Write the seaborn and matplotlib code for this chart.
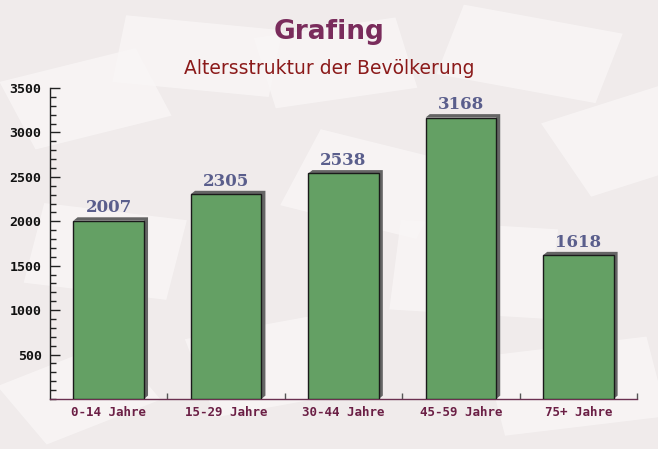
import matplotlib
matplotlib.use("Agg")
import matplotlib.pyplot as plt
import seaborn as sns
import pandas as pd
from matplotlib.patches import Polygon
from matplotlib.ticker import MultipleLocator, FixedLocator
import matplotlib.transforms as mtransforms

categories = ["0-14 Jahre", "15-29 Jahre", "30-44 Jahre", "45-59 Jahre", "75+ Jahre"]
values = [2007, 2305, 2538, 3168, 1618]
title = "Grafing"
subtitle = "Altersstruktur der Bevölkerung"

df = pd.DataFrame({"cat": categories, "val": values})

sns.set_theme(style="white")
bg = "#f0ebeb"
fig = plt.figure(figsize=(6.58, 4.49), dpi=100, facecolor=bg)

# background axes with faint decorative cards (envelope-like texture)
bgax = fig.add_axes([0, 0, 1, 1], zorder=0)
bgax.set_xlim(0, 1)
bgax.set_ylim(0, 1)
bgax.axis("off")
cards = [(0.02, 0.70, 0.22, 0.16, 20), (0.18, 0.80, 0.24, 0.15, -8), (0.40, 0.78, 0.22, 0.16, 12),
         (0.68, 0.80, 0.25, 0.16, -15), (0.85, 0.60, 0.22, 0.18, 25), (0.05, 0.35, 0.22, 0.18, -10),
         (0.30, 0.10, 0.25, 0.18, 15), (0.60, 0.30, 0.24, 0.20, -5), (0.75, 0.05, 0.25, 0.18, 10),
         (0.02, 0.05, 0.20, 0.15, 30), (0.45, 0.50, 0.22, 0.18, -20)]
for (cx, cy, w, h, ang) in cards:
    tr = mtransforms.Affine2D().rotate_deg_around(cx + w / 2, cy + h / 2, ang) + bgax.transData
    bgax.add_patch(plt.Rectangle((cx, cy), w, h, transform=tr, facecolor="#f9f6f6",
                                 edgecolor="none", alpha=0.8))

ax = fig.add_axes([50/658, 1-399/449, 587/658, 311/449], zorder=1)
ax.set_facecolor("none")

sns.barplot(data=df, x="cat", y="val", ax=ax, color="#64a064", width=0.6,
            edgecolor="#1a1a1a", linewidth=1.0, saturation=1, zorder=3)

# shadow (3D effect)
dx, dy = 0.035, 38
for p in ax.patches[:len(values)]:
    x0, w, h = p.get_x(), p.get_width(), p.get_height()
    poly = Polygon([(x0 + w, 0), (x0 + w + dx, dy), (x0 + w + dx, h + dy),
                    (x0 + dx, h + dy), (x0, h), (x0 + w, h)],
                   closed=True, facecolor="#656565", edgecolor="none", zorder=2)
    ax.add_patch(poly)

for i, v in enumerate(values):
    ax.text(i, v + 50, str(v), ha="center", va="bottom", fontsize=12,
            fontweight="bold", family="DejaVu Serif", color="#5a5e8c", zorder=4)

ax.set_xlim(-0.5, len(values) - 0.5)
ax.set_ylim(0, 3500)
ax.set_xlabel("")
ax.set_ylabel("")
ax.yaxis.set_major_locator(FixedLocator([500, 1000, 1500, 2000, 2500, 3000, 3500]))
ax.yaxis.set_minor_locator(MultipleLocator(100))
ax.xaxis.set_minor_locator(FixedLocator([0.5, 1.5, 2.5, 3.5, 4.5]))
ax.tick_params(axis="y", which="major", direction="in", length=7, width=1, color="#222222",
               labelsize=9.5, labelcolor="#111111", pad=6, left=True, right=False)
ax.tick_params(axis="y", which="minor", direction="in", length=4, width=1, color="#222222",
               left=True, right=False)
ax.tick_params(axis="x", which="major", length=0, labelsize=9, labelcolor="#6b1f45", pad=5)
ax.tick_params(axis="x", which="minor", direction="in", length=4, width=1, color="#555555",
               bottom=True, top=False)
for lab in ax.get_yticklabels() + ax.get_xticklabels():
    lab.set_family("DejaVu Sans Mono")
    lab.set_fontweight("bold")

for s in ["top", "right"]:
    ax.spines[s].set_visible(False)
ax.spines["left"].set_color("#222222")
ax.spines["bottom"].set_color("#6b3050")
ax.spines["left"].set_linewidth(1)
ax.spines["bottom"].set_linewidth(1)

fig.text(0.5, 1 - 32/449, title, ha="center", va="center", fontsize=19,
         fontweight="bold", color="#7a2c5c", zorder=2)
fig.text(0.5, 1 - 69/449, subtitle, ha="center", va="center", fontsize=13.5,
         color="#8b1a1a", zorder=2)

fig.savefig("out.png", dpi=100, facecolor=bg)
